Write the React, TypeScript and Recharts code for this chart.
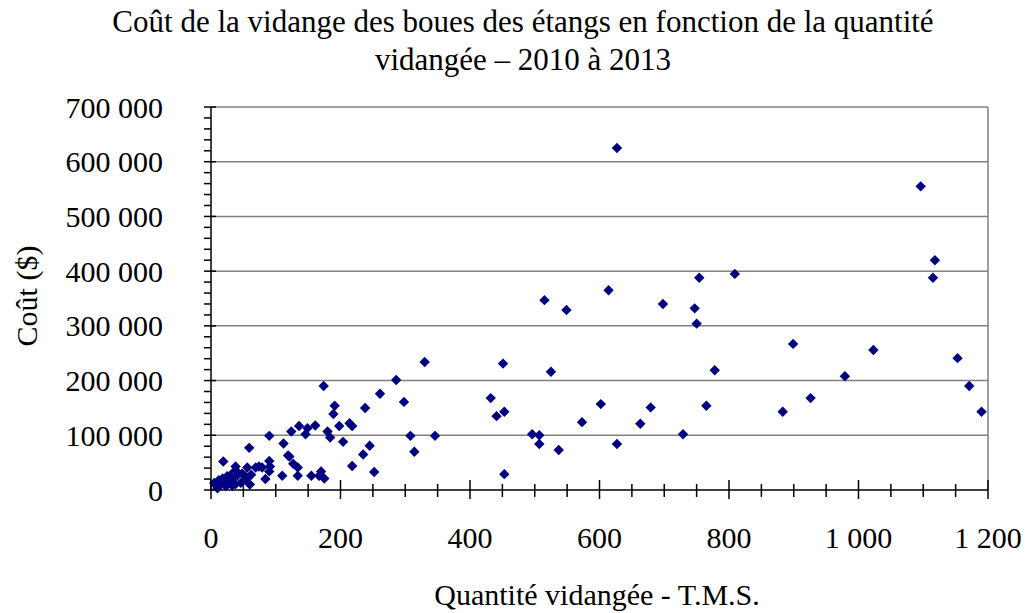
import { Scatter, ScatterChart, XAxis, YAxis, ReferenceLine } from 'recharts'

// Quantité vidangée (T.M.S.) and matching cost ($), one entry per pond
const QUANTITE = [
  627, 1096, 1118, 1115, 809, 754, 614, 698, 747, 750, 899, 1023, 1153, 778, 979, 1171,
  602, 926, 765, 679, 1190, 883, 573, 663, 729, 627,
  515, 549, 330, 286, 261, 451, 525, 298, 432, 453, 441, 308, 346, 314, 496, 507, 507, 537, 453,
  174, 191, 189, 238, 136, 149, 161, 124, 146, 180, 184, 198, 214, 218, 204, 235, 245,
  90, 59, 112, 119, 121, 127, 134, 110, 134, 155, 167, 170, 175, 218, 252, 90, 90, 84,
  19, 38, 38, 56, 69, 74, 79, 91, 62, 60, 48, 33, 38, 46,
  5, 10, 14, 18, 23, 28, 30, 25, 12, 20, 33, 7, 54, 41, 52,
]
const COUT = [
  625000, 555000, 420000, 388000, 395000, 388000, 365000, 340000, 332000, 304000, 267000, 256000, 241000, 219000, 208000, 190000,
  157000, 168000, 154000, 151000, 143000, 143000, 124000, 121000, 102000, 84000,
  347000, 329000, 234000, 201000, 176000, 231000, 216000, 161000, 168000, 143000, 135000, 99000, 99000, 70000, 102000, 100000, 84000, 73000, 29000,
  190000, 154000, 139000, 150000, 117000, 113000, 118000, 107000, 102000, 107000, 96000, 117000, 122000, 117000, 88000, 65000, 81000,
  99000, 77000, 85000, 63000, 61000, 48000, 41000, 26000, 26000, 26000, 26000, 34000, 21000, 44000, 33000, 53000, 34000, 20000,
  52000, 43000, 36000, 41000, 41000, 43000, 41000, 43000, 28000, 10000, 30000, 21000, 11000, 13000,
  13000, 3000, 11000, 21000, 7000, 15000, 27000, 25000, 18000, 15000, 8000, 10000, 20000, 27000, 26000,
]

const X_TICKS = [0, 50, 100, 150, 200, 250, 300, 350, 400, 450, 500, 550, 600, 650, 700, 750, 800, 850, 900, 950, 1000, 1050, 1100, 1150, 1200]
const Y_TICKS = [
  0, 20000, 40000, 60000, 80000, 100000, 120000, 140000, 160000, 180000, 200000, 220000, 240000, 260000, 280000, 300000,
  320000, 340000, 360000, 380000, 400000, 420000, 440000, 460000, 480000, 500000, 520000, 540000, 560000, 580000, 600000,
  620000, 640000, 660000, 680000, 700000,
]
const GRID_Y = [100000, 200000, 300000, 400000, 500000, 600000, 700000]

const TITLE = ['Coût de la vidange des boues des étangs en fonction de la quantité', 'vidangée – 2010 à 2013']
const X_LABEL = 'Quantité vidangée - T.M.S.'
const Y_LABEL = 'Coût ($)'

const FONT = "'Liberation Serif', 'Times New Roman', serif"
const NAVY = '#000080'

const data = QUANTITE.map((q, i) => ({ x: q, y: COUT[i] }))

const spaced = (v: number) => String(v).replace(/\B(?=(\d{3})+(?!\d))/g, ' ')

function YTick({ x, y, payload }: any) {
  const major = payload.value % 100000 === 0
  return (
    <g>
      <line x1={x - 7} x2={major ? x + 5 : x} y1={y} y2={y} stroke="#000" strokeWidth={1.5} />
      {major && (
        <text x={x - 48} y={y + 10.5} textAnchor="end" fontSize={30} fontFamily={FONT} fill="#000">
          {spaced(payload.value)}
        </text>
      )}
    </g>
  )
}

function XTick({ x, y, payload }: any) {
  const major = payload.value % 200 === 0
  return (
    <g>
      <line x1={x} x2={x} y1={major ? y - 10 : y - 6} y2={major ? y + 9 : y + 7} stroke="#000" strokeWidth={1.5} />
      {major && (
        <text x={x} y={y + 58} textAnchor="middle" fontSize={30} fontFamily={FONT} fill="#000">
          {spaced(payload.value)}
        </text>
      )}
    </g>
  )
}

function Diamond({ cx, cy }: any) {
  const r = 5.2
  return <path d={`M${cx},${cy - r}L${cx + r},${cy}L${cx},${cy + r}L${cx - r},${cy}Z`} fill={NAVY} />
}

export default function App() {
  return (
    <div style={{ position: 'absolute', left: 0, top: 0, width: 1028, height: 613, background: '#fff' }}>
      <ScatterChart width={1028} height={613} margin={{ top: 107, right: 40, bottom: 63, left: 11 }}>
        {GRID_Y.map((v) => (
          <ReferenceLine key={v} y={v} stroke="#808080" strokeWidth={1.5} />
        ))}
        <ReferenceLine x={1200} stroke="#808080" strokeWidth={1.5} />
        <XAxis
          type="number"
          dataKey="x"
          domain={[0, 1200]}
          ticks={X_TICKS}
          interval={0}
          height={60}
          tickSize={0}
          tickMargin={0}
          tickLine={false}
          axisLine={{ stroke: '#000', strokeWidth: 1.5 }}
          tick={<XTick />}
        />
        <YAxis
          type="number"
          dataKey="y"
          domain={[0, 700000]}
          ticks={Y_TICKS}
          interval={0}
          width={200}
          tickSize={0}
          tickMargin={0}
          tickLine={false}
          axisLine={{ stroke: '#000', strokeWidth: 1.5 }}
          tick={<YTick />}
        />
        <Scatter data={data} fill={NAVY} shape={<Diamond />} isAnimationActive={false} />
      </ScatterChart>
      <svg width={1028} height={613} style={{ position: 'absolute', left: 0, top: 0, pointerEvents: 'none' }}>
        <text x={523} y={32} textAnchor="middle" fontSize={31} fontFamily={FONT} fill="#000">
          {TITLE[0]}
        </text>
        <text x={523} y={70} textAnchor="middle" fontSize={31} fontFamily={FONT} fill="#000">
          {TITLE[1]}
        </text>
        <text x={597} y={605} textAnchor="middle" fontSize={30} fontFamily={FONT} fill="#000">
          {X_LABEL}
        </text>
        <text
          x={0}
          y={0}
          transform="translate(37, 296) rotate(-90)"
          textAnchor="middle"
          fontSize={30}
          fontFamily={FONT}
          fill="#000"
        >
          {Y_LABEL}
        </text>
      </svg>
    </div>
  )
}
